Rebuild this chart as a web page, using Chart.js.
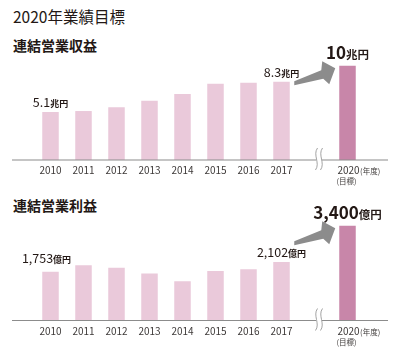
<!DOCTYPE html>
<html>
<head>
<meta charset="utf-8">
<script src="https://cdn.jsdelivr.net/npm/chart.js@4.4.1/dist/chart.umd.min.js"></script>
<style>
  body { margin: 0; background: #fff; width: 395px; height: 350px; position: relative; overflow: hidden;
         font-family: "Noto Sans CJK JP", "Noto Sans", sans-serif; color: #231815; }
  .title { position: absolute; left: 13px; top: 5px; font-size: 15.5px; }
  .sub { position: absolute; left: 13px; font-size: 14px; font-weight: bold; }
  canvas { position: absolute; left: 0; }
</style>
</head>
<body>
<div class="title">2020年業績目標</div>
<div class="sub" style="top:35px">連結営業収益</div>
<div class="sub" style="top:195px">連結営業利益</div>
<canvas id="revChart" width="395" height="160" style="top:30px"></canvas>
<canvas id="opChart" width="395" height="160" style="top:190px"></canvas>
<script>
// data
const years = ['2010', '2011', '2012', '2013', '2014', '2015', '2016', '2017', '', '2020'];
const revenue = [5.1, 5.2, 5.6, 6.3, 7.0, 8.1, 8.2, 8.3, null, 10];
const profit = [1753, 1980, 1890, 1690, 1405, 1775, 1835, 2102, null, 3400];
const revenueNotes = ['5.1', '', '', '', '', '', '', '8.3', '', '10'];
const profitNotes = ['1,753', '', '', '', '', '', '', '2,102', '', '3,400'];
const targetSuffix = '(年度)';
const targetSub = '(目標)';

const FONT = '"Noto Sans CJK JP", "Noto Sans", sans-serif';
const lightPink = '#eac9da';
const darkPink = '#c886a9';
const grey = '#8c8c8c';
const textCol = '#231815';

function drawParts(ctx, parts, cx, by) {
    let total = 0;
    parts.forEach(p => { ctx.font = p.font; p.w = ctx.measureText(p.t).width; total += p.w; });
    let x = cx - total / 2;
    ctx.textAlign = 'left';
    ctx.textBaseline = 'alphabetic';
    parts.forEach(p => { ctx.font = p.font; ctx.fillText(p.t, x, by); x += p.w; });
}

const decor = {
    id: 'decor',
    afterDatasetsDraw(chart, args, opts) {
        const ctx = chart.ctx;
        const xs = chart.scales.x, ys = chart.scales.y;
        const base = ys.getPixelForValue(0);
        const meta = chart.getDatasetMeta(0);
        ctx.save();

        // baseline with a break
        const cx = xs.getPixelForValue(8) + 4.5;
        ctx.strokeStyle = grey;
        ctx.lineWidth = 1.2;
        ctx.beginPath();
        ctx.moveTo(12, base); ctx.lineTo(cx - 3, base);
        ctx.moveTo(cx + 3, base); ctx.lineTo(388, base);
        ctx.stroke();
        ctx.lineWidth = 0.8;
        [-2.5, 2.5].forEach(o => {
            ctx.beginPath();
            ctx.moveTo(cx + o + 1, base - 12);
            ctx.bezierCurveTo(cx + o - 4, base - 5, cx + o + 4, base + 3, cx + o - 1, base + 10);
            ctx.stroke();
        });

        // category labels
        ctx.fillStyle = '#3e3a39';
        years.forEach((y, i) => {
            if (!y) return;
            const x = xs.getPixelForValue(i);
            if (i === 9) {
                ctx.font = '10px ' + FONT;
                const w = ctx.measureText(y).width;
                ctx.textAlign = 'left';
                ctx.fillText(y, x - w / 2 + 1, base + 14);
                ctx.font = '7.5px ' + FONT;
                ctx.fillText(targetSuffix, x + w / 2 + 1.5, base + 14);
                ctx.fillText(targetSub, x - 11, base + 24);
            } else {
                ctx.font = '10px ' + FONT;
                ctx.textAlign = 'center';
                ctx.fillText(y, x, base + 14);
            }
        });

        // value notes
        ctx.fillStyle = textCol;
        opts.notes.forEach((t, i) => {
            if (!t) return;
            const bar = meta.data[i];
            const big = i === 9;
            const sh = (opts.shift && opts.shift[i]) || [0, 0];
            const parts = big
                ? [{ t: t, font: 'bold 17px ' + FONT }, { t: opts.unit, font: 'bold 11.5px ' + FONT }]
                : [{ t: t, font: '12.5px ' + FONT }, { t: opts.unit, font: 'bold 9px ' + FONT }];
            drawParts(ctx, parts, bar.x + sh[0], bar.y - (big ? 6.5 : 5) + sh[1]);
        });

        // arrow to target bar
        const tb = meta.data[9];
        const tx = tb.x - tb.width / 2 - 4, ty = tb.y + 2.5;
        const pts = [[0, 0], [-13, -7], [-14, 2], [-41, 13], [-41, 17], [-12, 10.5], [-6, 16]];
        ctx.fillStyle = grey;
        ctx.beginPath();
        pts.forEach((p, k) => k ? ctx.lineTo(tx + p[0], ty + p[1]) : ctx.moveTo(tx + p[0], ty + p[1]));
        ctx.closePath();
        ctx.fill();

        ctx.restore();
    }
};

function makeChart(id, values, max, pad, notes, unit, shift) {
    return new Chart(document.getElementById(id), {
        type: 'bar',
        data: {
            labels: years,
            datasets: [{
                data: values,
                backgroundColor: values.map((v, i) => i === 9 ? darkPink : lightPink),
                barPercentage: 0.5,
                categoryPercentage: 1
            }]
        },
        options: {
            responsive: false,
            animation: false,
            layout: { padding: pad },
            scales: {
                x: { display: false },
                y: { display: false, min: 0, max: max }
            },
            plugins: {
                legend: { display: false },
                tooltip: { enabled: false },
                decor: { notes: notes, unit: unit, shift: shift }
            }
        },
        plugins: [decor]
    });
}

makeChart('revChart', revenue, 12, { left: 34, right: 31, top: 17, bottom: 30 }, revenueNotes, '兆円', null);
makeChart('opChart', profit, 4000, { left: 34, right: 31, top: 19, bottom: 29.5 }, profitNotes, '億円', { 0: [-4, -4] });
</script>
</body>
</html>
